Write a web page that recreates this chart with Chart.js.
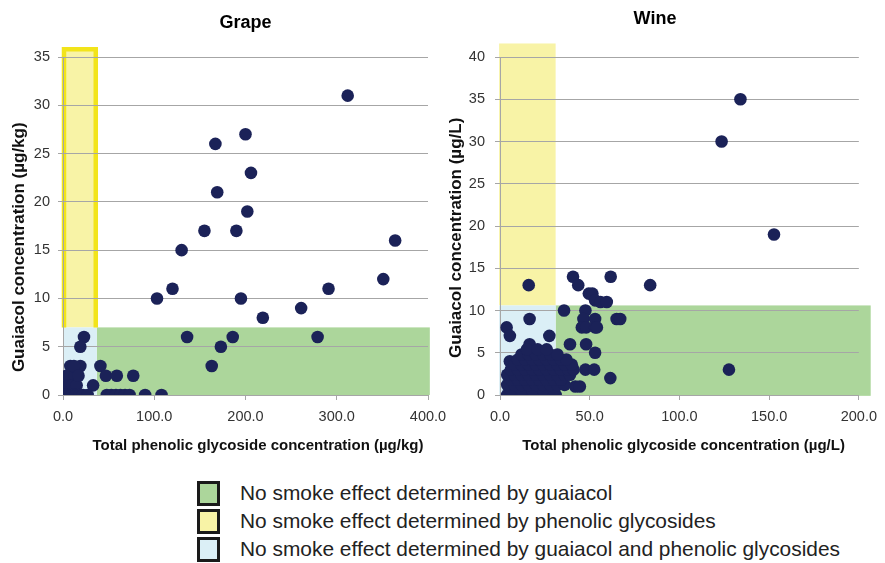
<!DOCTYPE html>
<html>
<head>
<meta charset="utf-8">
<script src="https://cdn.jsdelivr.net/npm/chart.js@4.4.0/dist/chart.umd.min.js"></script>
<style>
  html, body { margin: 0; padding: 0; background: #fff; }
  body { width: 885px; height: 563px; overflow: hidden; position: relative; font-family: "Liberation Sans", Arial, sans-serif; }
  #grape { position: absolute; left: 0; top: 0; }
  #wine { position: absolute; left: 440px; top: 0; }
  .legend { position: absolute; left: 197px; top: 479px; }
  .row { height: 28px; display: flex; align-items: center; }
  .sw { width: 23px; height: 25px; box-sizing: border-box; border: 3px solid #1a1a1a; }
  .lbl { margin-left: 20px; font-size: 20.9px; color: #222; white-space: nowrap; }
</style>
</head>
<body>
<canvas id="grape" width="455" height="470"></canvas>
<canvas id="wine" width="445" height="470"></canvas>
<div class="legend">
  <div class="row"><div class="sw" style="background:#acd69b"></div><div class="lbl">No smoke effect determined by guaiacol</div></div>
  <div class="row"><div class="sw" style="background:#f8f3a6"></div><div class="lbl">No smoke effect determined by phenolic glycosides</div></div>
  <div class="row"><div class="sw" style="background:#dbeff6"></div><div class="lbl">No smoke effect determined by guaiacol and phenolic glycosides</div></div>
</div>
<script>
// ---------------- DATA ----------------
// Grape: total phenolic glycoside (µg/kg) vs guaiacol (µg/kg)
const grapeX = [312,200,167,206,169,202,155,190,364,130,351,120,291,103,195,261,219,136,186,279,173,163,
                41,47,59,77,33,48,53,58,63,68,73,90,108,
                23,19,8,19,4,13,5,10,15,2,6,10,14,18,22,27,12,17];
const grapeY = [31,27,26,23,21,19,17,17,16,15,12,11,11,10,10,9,8,6,6,6,5,3,
                3,2,2,2,1,0,0,0,0,0,0,0,0,
                6,5,3,3,2,2,1,1,1,0,0,0,0,0,0,0,3,2];

// Wine: total phenolic glycoside (µg/L) vs guaiacol (µg/L)
const wineX = [134,123.5,152.7,127.6,83.7,61.7,40.7,43.6,16,49.5,51.5,53,56,59.5,35.7,47.6,16.5,3.7,5.5,46.5,53,65,67,45.6,48,53,54,27.5,16.5,39,48,53,5.5,47.6,52.5,61.5,42,44.5,
               4,7,10,13,16,19,22,25,28,31,
               6,12,18,24,30,
               4,8,12,16,20,24,28,32,36,
               6,10,14,18,22,26,30,34,
               4,8,12,16,20,24,28,32,36,39,
               6,10,14,18,22,26,30,34,38,41,
               8,12,16,20,24,28,32,36,40,
               10,14,18,22,26,30,34,37,
               12,16,20,24,28,32,
               15,21,26];
const wineY = [35,30,19,3,13,14,14,13,13,12,12,11.2,11,11,10,10,9,8,7,9,9,9,9,8,8,8,8,7,6,6,6,5,4,3,3,2,1,1,
               0,0,0,0,0,0,0,0,0,0,
               0.6,0.6,0.6,0.6,0.6,
               1.2,1.2,1.2,1.2,1.2,1.2,1.2,1.2,1.2,
               1.8,1.8,1.8,1.8,1.8,1.8,1.8,1.8,
               2.4,2.4,2.4,2.4,2.4,2.4,2.4,2.4,2.4,2.4,
               3,3,3,3,3,3,3,3,3,3,
               3.6,3.6,3.6,3.6,3.6,3.6,3.6,3.6,3.6,
               4.2,4.2,4.2,4.2,4.2,4.2,4.2,4.2,
               4.8,4.8,4.8,4.8,4.8,4.8,
               5.4,5.4,5.4];

// Threshold regions [xMin, xMax, yMin, yMax] in data units
const grapeGreen  = [37, 402, 0, 7];
const grapeYellow = [0, 37, 7, 36];
const grapeBlue   = [0, 37, 0, 7];
const wineGreen   = [31, 206.6, -0.1, 10.6];
const wineYellow  = [-0.5, 31, 10.6, 41.6];
const wineBlue    = [-0.5, 31, -0.1, 10.6];

const grapeXTicks = [0, 100, 200, 300, 400];
const grapeYTicks = [0, 5, 10, 15, 20, 25, 30, 35];
const wineXTicks  = [0, 50, 100, 150, 200];
const wineYTicks  = [0, 5, 10, 15, 20, 25, 30, 35, 40];

// ---------------- STYLE ----------------
const FONT = "'Liberation Sans', Arial, Helvetica, sans-serif";
Chart.defaults.font.family = FONT;
const GREEN = '#acd69b', YELLOW = '#f8f3a6', BLUE = '#dbeff6', YELLOW_EDGE = '#f2e41a';
const DOT = '#1b2258';
const GRID = '#a6a6a6';

function toPts(xs, ys) { return xs.map((x, i) => ({ x: x, y: ys[i] })); }

function regionPlugin(regs, edge) {
  return {
    id: 'regions',
    beforeDraw(chart) {
      const { ctx, scales: { x, y } } = chart;
      ctx.save();
      regs.forEach(([r, color]) => {
        const x0 = x.getPixelForValue(r[0]), x1 = x.getPixelForValue(r[1]);
        const y0 = y.getPixelForValue(r[2]), y1 = y.getPixelForValue(r[3]);
        ctx.fillStyle = color;
        ctx.fillRect(x0, y1, x1 - x0, y0 - y1);
      });
      if (edge) {
        const r = edge;
        const x0 = x.getPixelForValue(r[0]), x1 = x.getPixelForValue(r[1]);
        const y0 = y.getPixelForValue(r[2]), y1 = y.getPixelForValue(r[3]);
        ctx.strokeStyle = YELLOW_EDGE;
        ctx.lineWidth = 4.5;
        ctx.beginPath();
        ctx.moveTo(x0 + 1, y0);
        ctx.lineTo(x0 + 1, y1 + 2);
        ctx.lineTo(x1 - 1, y1 + 2);
        ctx.lineTo(x1 - 1, y0);
        ctx.stroke();
      }
      ctx.restore();
    }
  };
}

function makeChart(id, cfg) {
  const tickFont = { size: 14.5, family: FONT };
  return new Chart(document.getElementById(id), {
    type: 'scatter',
    data: {
      datasets: [{
        data: toPts(cfg.xs, cfg.ys),
        backgroundColor: DOT,
        borderColor: DOT,
        borderWidth: 0,
        pointRadius: 6.3,
        pointHoverRadius: 6.3
      }]
    },
    options: {
      responsive: false,
      animation: false,
      events: [],
      layout: { padding: cfg.padding },
      plugins: {
        legend: { display: false },
        tooltip: { enabled: false },
        title: {
          display: true,
          text: cfg.title,
          color: '#000',
          font: { size: 18, weight: 'bold', family: FONT },
          padding: cfg.titlePad,
          fullSize: cfg.titleFull
        }
      },
      scales: {
        x: {
          type: 'linear',
          min: cfg.xTicks[0],
          max: cfg.xTicks[cfg.xTicks.length - 1],
          afterBuildTicks: s => { s.ticks = cfg.xTicks.map(v => ({ value: v })); },
          ticks: { font: tickFont, color: '#333', padding: 8, maxRotation: 0, autoSkip: false,
                   callback: v => Number(v).toFixed(1) },
          grid: { drawOnChartArea: false, drawTicks: true, tickLength: 5, color: GRID },
          border: { display: true, color: GRID },
          title: { display: true, text: cfg.xTitle, color: '#111',
                   font: { size: 15, weight: 'bold', family: FONT }, padding: { top: 0, bottom: 15 } },
          afterFit: s => { s.height = 75; }
        },
        y: {
          type: 'linear',
          min: cfg.yTicks[0],
          max: cfg.yTicks[cfg.yTicks.length - 1],
          afterBuildTicks: s => { s.ticks = cfg.yTicks.map(v => ({ value: v })); },
          ticks: { font: tickFont, color: '#333', padding: cfg.yPad },
          grid: { color: GRID, lineWidth: 1, tickLength: 5 },
          border: { display: true, color: GRID },
          title: { display: true, text: cfg.yTitle, color: '#111',
                   font: { size: 17, weight: 'bold', family: FONT }, padding: { top: 0, bottom: 0 } },
          afterFit: s => { s.width = cfg.yWidth; }
        }
      }
    },
    plugins: [regionPlugin(cfg.regions, cfg.edge)]
  });
}

makeChart('grape', {
  xs: grapeX, ys: grapeY,
  xTicks: grapeXTicks, yTicks: grapeYTicks,
  title: 'Grape', titlePad: { top: 12, bottom: 23.4 }, titleFull: false,
  xTitle: '      Total phenolic glycoside concentration (µg/kg)',
  yTitle: 'Guaiacol concentration (µg/kg)         ',
  padding: { left: 9, right: 27, top: 0, bottom: 0 },
  yWidth: 54, yPad: 8,
  regions: [[grapeYellow, YELLOW], [grapeGreen, GREEN], [grapeBlue, BLUE]],
  edge: grapeYellow
});

makeChart('wine', {
  xs: wineX, ys: wineY,
  xTicks: wineXTicks, yTicks: wineYTicks,
  title: 'Wine', titlePad: { top: 8, bottom: 27.4 }, titleFull: true,
  xTitle: '  Total phenolic glycoside concentration (µg/L)',
  yTitle: 'Guaiacol concentration (µg/L)     ',
  padding: { left: 6, right: 21, top: 0, bottom: 0 },
  yWidth: 54, yPad: 10,
  regions: [[wineYellow, YELLOW], [wineGreen, GREEN], [wineBlue, BLUE]],
  edge: null
});
</script>
</body>
</html>
